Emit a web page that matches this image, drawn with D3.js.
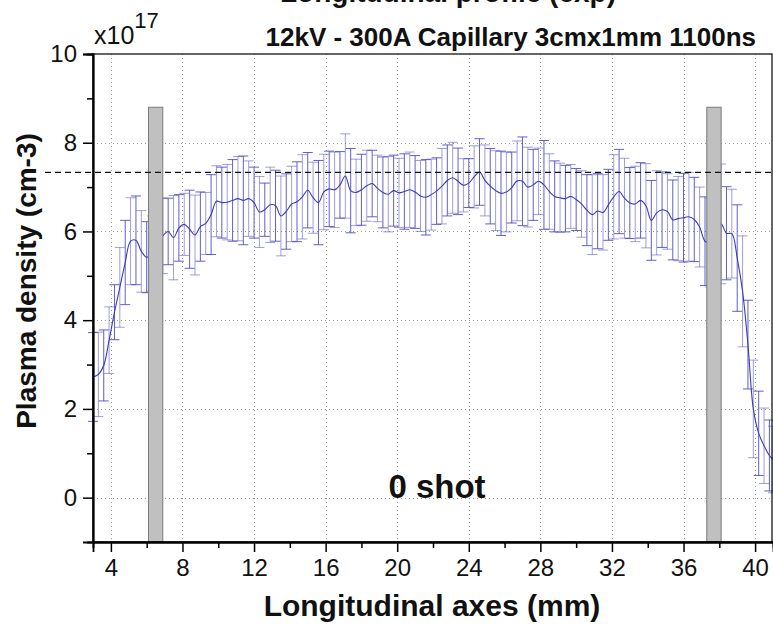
<!DOCTYPE html>
<html>
<head>
<meta charset="utf-8">
<script src="https://cdn.jsdelivr.net/npm/d3@7"></script>
<style>
  body { margin: 0; background: #fff; }
  svg { display: block; }
</style>
</head>
<body>
<svg id="chart" width="773" height="631"></svg>
<script>
// Sampling positions along the capillary (mm)
const positions = [
  3.0, 3.3, 3.6, 3.9, 4.2, 4.5, 4.8, 5.1, 5.4, 5.7,
  6.0, 6.3, 6.6, 6.9, 7.2, 7.5, 7.8, 8.1, 8.4, 8.7,
  9.0, 9.3, 9.6, 9.9, 10.2, 10.5, 10.8, 11.1, 11.4, 11.7,
  12.0, 12.3, 12.6, 12.9, 13.2, 13.5, 13.8, 14.1, 14.4, 14.7,
  15.0, 15.3, 15.6, 15.9, 16.2, 16.5, 16.8, 17.1, 17.4, 17.7,
  18.0, 18.3, 18.6, 18.9, 19.2, 19.5, 19.8, 20.1, 20.4, 20.7,
  21.0, 21.3, 21.6, 21.9, 22.2, 22.5, 22.8, 23.1, 23.4, 23.7,
  24.0, 24.3, 24.6, 24.9, 25.2, 25.5, 25.8, 26.1, 26.4, 26.7,
  27.0, 27.3, 27.6, 27.9, 28.2, 28.5, 28.8, 29.1, 29.4, 29.7,
  30.0, 30.3, 30.6, 30.9, 31.2, 31.5, 31.8, 32.1, 32.4, 32.7,
  33.0, 33.3, 33.6, 33.9, 34.2, 34.5, 34.8, 35.1, 35.4, 35.7,
  36.0, 36.3, 36.6, 36.9, 37.2, 37.5, 37.8, 38.1, 38.4, 38.7,
  39.0, 39.3, 39.6, 39.9, 40.2, 40.5, 40.8, 41.0
];

// Mean plasma density (x10^17 cm-3)
const density = [
  2.72, 2.78, 2.98, 3.55, 4.18, 4.74, 5.30, 5.78, 5.80, 5.55,
  5.42, 5.50, 5.70, 5.90, 6.00, 5.86, 6.08, 6.16, 6.05, 5.92,
  6.11, 6.18, 6.38, 6.68, 6.65, 6.66, 6.70, 6.74, 6.70, 6.74,
  6.65, 6.44, 6.49, 6.60, 6.58, 6.35, 6.45, 6.62, 6.67, 6.78,
  6.93, 6.76, 6.65, 6.89, 6.96, 6.94, 7.05, 7.25, 6.92, 6.88,
  6.94, 7.03, 7.08, 6.97, 6.88, 6.84, 6.92, 6.87, 6.90, 6.94,
  6.89, 6.80, 6.77, 6.83, 6.91, 7.02, 7.15, 7.21, 7.13, 7.04,
  7.09, 7.23, 7.34, 7.15, 7.02, 6.92, 6.86, 6.89, 6.99, 7.14,
  7.13, 7.00, 7.05, 7.13, 7.05, 6.90, 6.79, 6.76, 6.74, 6.79,
  6.72, 6.62, 6.48, 6.38, 6.46, 6.43, 6.60, 6.78, 6.90, 6.75,
  6.64, 6.62, 6.70, 6.58, 6.25, 6.42, 6.49, 6.45, 6.26, 6.29,
  6.31, 6.33, 6.27, 6.10, 5.78, 5.75, 5.95, 6.17, 5.96, 5.95,
  5.40, 4.65, 3.45, 2.00, 1.45, 1.17, 0.95, 0.86
];

// Standard deviation of each point (x10^17 cm-3)
const deviation = [
  1.00, 0.95, 0.80, 0.75, 0.62, 0.90, 0.95, 0.98, 1.00, 0.92,
  0.80, 0.85, 0.85, 0.85, 0.75, 0.95, 0.75, 0.70, 0.88, 0.90,
  0.78, 0.70, 0.90, 0.80, 0.80, 0.85, 0.92, 0.95, 1.00, 0.85,
  0.80, 0.80, 0.60, 0.85, 0.80, 0.90, 0.85, 0.85, 0.90, 0.95,
  0.85, 0.80, 0.95, 0.85, 0.85, 0.85, 0.75, 0.95, 0.95, 0.75,
  0.80, 0.80, 0.75, 0.75, 0.80, 0.85, 0.80, 0.78, 0.85, 0.85,
  0.82, 0.80, 0.85, 0.80, 0.75, 0.85, 0.80, 0.80, 0.75, 0.60,
  0.55, 0.70, 0.75, 0.80, 0.85, 0.90, 0.95, 0.90, 0.80, 0.90,
  1.00, 0.90, 0.80, 0.75, 1.00, 0.85, 0.80, 0.78, 0.75, 0.72,
  0.70, 0.75, 0.80, 0.90, 0.85, 0.85, 0.80, 0.95, 0.95, 0.90,
  0.80, 0.85, 0.85, 0.95, 0.90, 0.95, 0.85, 0.85, 0.90, 0.95,
  1.00, 1.00, 0.95, 0.90, 1.00, 1.00, 1.00, 1.35, 1.05, 1.00,
  1.20, 1.25, 1.00, 1.10, 0.95, 0.85, 0.80, 0.75
];

// Axis ticks
const xMajorTicks = [4, 8, 12, 16, 20, 24, 28, 32, 36, 40];
const xMinorTicks = [6, 10, 14, 18, 22, 26, 30, 34, 38];
const yMajorTicks = [0, 2, 4, 6, 8, 10];
const yMinorTicks = [1, 3, 5, 7, 9];

// Electrode positions (mm) and their drawn height
const electrodeStart = [6.1, 37.3];
const electrodeEnd = [6.9, 38.1];
const electrodeHeight = 8.8;

// Reference density level (dashed line)
const referenceLevel = 7.33;

const svg = d3.select("#chart");
const plot = { left: 93, right: 773, top: 54, bottom: 542 };

const x = d3.scaleLinear().domain([3, 41]).range([plot.left, plot.right]);
const y = d3.scaleLinear().domain([-1, 10]).range([plot.bottom, plot.top]);

const FONT = "'Liberation Sans', Arial, sans-serif";

const points = positions.map((p, i) => ({ x: p, v: density[i], e: deviation[i] }));

// Grid
const grid = svg.append("g").attr("stroke", "#9a9a9a").attr("stroke-width", 1)
  .attr("stroke-dasharray", "1,3");
grid.selectAll("line.gx").data(xMajorTicks).join("line")
  .attr("x1", d => Math.round(x(d)) + 0.5).attr("x2", d => Math.round(x(d)) + 0.5)
  .attr("y1", plot.top).attr("y2", plot.bottom);
grid.selectAll("line.gy").data(yMajorTicks.filter(d => d < 10)).join("line")
  .attr("x1", plot.left).attr("x2", plot.right)
  .attr("y1", d => Math.round(y(d)) + 0.5).attr("y2", d => Math.round(y(d)) + 0.5);

// Error bars
const capHalf = 5;
const eb = svg.append("g").attr("stroke", "#4f4fc4").attr("stroke-width", 1).attr("fill", "none");
eb.selectAll("path").data(points).join("path")
  .attr("opacity", (d, i) => i % 2 ? 0.55 : 0.9)
  .attr("d", d => {
    const cx = x(d.x), y1 = y(d.v + d.e), y0 = y(d.v - d.e);
    return `M${cx},${y0}V${y1}M${cx - capHalf},${y1}H${cx + capHalf}M${cx - capHalf},${y0}H${cx + capHalf}`;
  });

// Mean density curve
svg.append("path").datum(points)
  .attr("fill", "none").attr("stroke", "#3c3cb8").attr("stroke-width", 1.1)
  .attr("d", d3.line().x(d => x(d.x)).y(d => y(d.v)).curve(d3.curveCatmullRom.alpha(0.5)));

// Electrodes
svg.append("g").selectAll("rect").data(electrodeStart).join("rect")
  .attr("x", d => x(d)).attr("width", (d, i) => x(electrodeEnd[i]) - x(d))
  .attr("y", y(electrodeHeight)).attr("height", y(-1) - y(electrodeHeight))
  .attr("fill", "#c0c0c0").attr("stroke", "#7a7a7a").attr("stroke-width", 1);

// Reference level
svg.append("line")
  .attr("x1", 45).attr("x2", 773)
  .attr("y1", y(referenceLevel)).attr("y2", y(referenceLevel))
  .attr("stroke", "#111").attr("stroke-width", 1.3).attr("stroke-dasharray", "6,4");

// Frame
svg.append("rect").attr("x", plot.left).attr("y", plot.top)
  .attr("width", plot.right - plot.left - 1).attr("height", plot.bottom - plot.top)
  .attr("fill", "none").attr("stroke", "#000").attr("stroke-width", 1.2);

// Axes
svg.append("g").attr("transform", `translate(0,${plot.bottom})`)
  .call(d3.axisBottom(x).tickValues(xMajorTicks).tickSize(10).tickPadding(7).tickFormat(d3.format("d")));
svg.append("g").attr("transform", `translate(0,${plot.bottom})`)
  .call(d3.axisBottom(x).tickValues(xMinorTicks).tickSize(6).tickFormat(""));
svg.append("g").attr("transform", `translate(${plot.left},0)`)
  .call(d3.axisLeft(y).tickValues(yMajorTicks).tickSize(10).tickPadding(6).tickFormat(d3.format("d")));
svg.append("g").attr("transform", `translate(${plot.left},0)`)
  .call(d3.axisLeft(y).tickValues(yMinorTicks).tickSize(6).tickFormat(""));

svg.selectAll(".domain").attr("stroke", "#000").attr("stroke-width", 1.8);
svg.selectAll(".tick line").attr("stroke", "#000").attr("stroke-width", 1.5);
svg.selectAll(".tick text").attr("font-family", FONT).attr("font-size", 24).attr("fill", "#111");

// Exponent label
const expo = svg.append("text").attr("x", 94).attr("y", 44)
  .attr("font-family", FONT).attr("font-size", 25).attr("fill", "#111");
expo.append("tspan").text("x10");
expo.append("tspan").attr("dy", -16).attr("font-size", 22).text("17");

// Titles
svg.append("text").attr("x", 756).attr("y", 46).attr("text-anchor", "end")
  .attr("font-family", FONT).attr("font-weight", "bold").attr("font-size", 26).attr("fill", "#111")
  .text("12kV - 300A Capillary 3cmx1mm 1100ns");

svg.append("text").attr("x", 448).attr("y", 2).attr("text-anchor", "middle")
  .attr("font-family", FONT).attr("font-weight", "bold").attr("font-size", 28).attr("fill", "#111")
  .text("Longitudinal profile (exp)");

svg.append("text").attr("x", 432).attr("y", 616).attr("text-anchor", "middle")
  .attr("font-family", FONT).attr("font-weight", "bold").attr("font-size", 30).attr("fill", "#111")
  .text("Longitudinal axes (mm)");

svg.append("text").attr("transform", "translate(36,281) rotate(-90)").attr("text-anchor", "middle")
  .attr("font-family", FONT).attr("font-weight", "bold").attr("font-size", 28).attr("fill", "#111")
  .text("Plasma density (cm-3)");

svg.append("text").attr("x", 437).attr("y", 498).attr("text-anchor", "middle")
  .attr("font-family", FONT).attr("font-weight", "bold").attr("font-size", 33).attr("fill", "#111")
  .text("0 shot");
</script>
</body>
</html>
